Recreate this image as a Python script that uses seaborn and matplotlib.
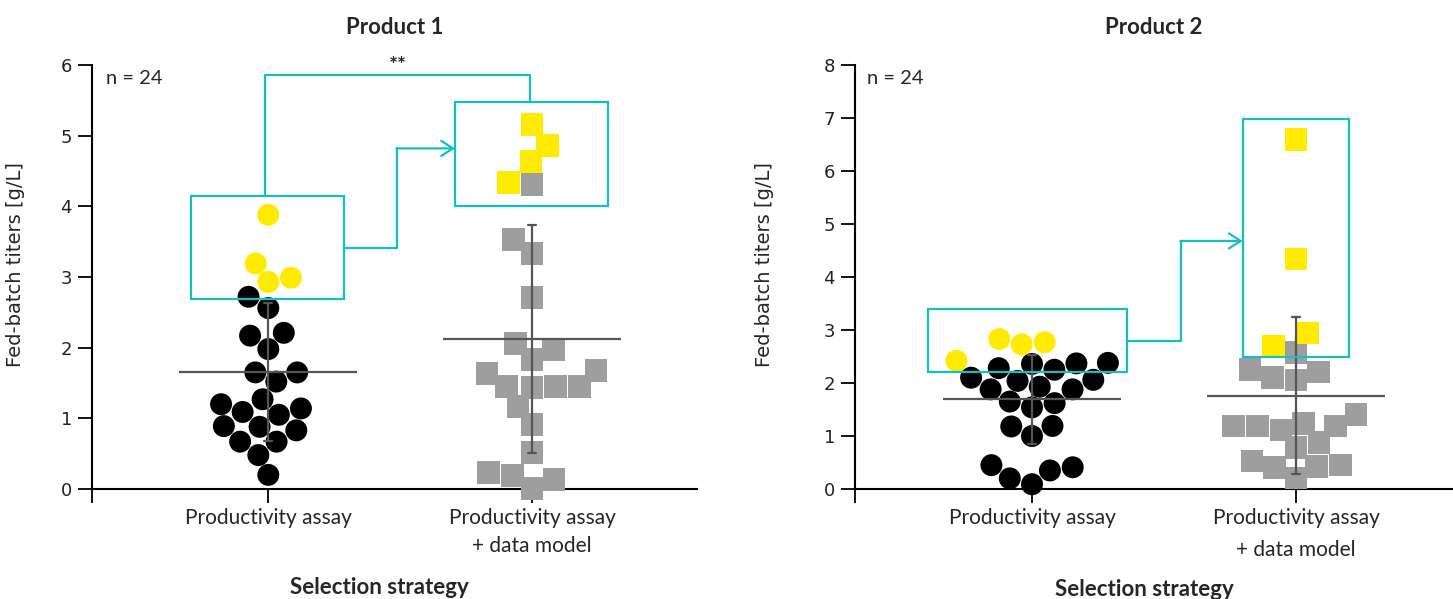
import warnings
warnings.filterwarnings("ignore")
import numpy as np
import pandas as pd
import matplotlib
matplotlib.use("Agg")
import matplotlib.pyplot as plt
from matplotlib.patches import Rectangle
import seaborn as sns

# ---------------- data ----------------
categories = ["Productivity assay", "Productivity assay\n+ data model"]
titles = ["Product 1", "Product 2"]
n_labels = ["n = 24", "n = 24"]

p1_assay_top = [3.88, 3.19, 2.99, 2.93]
p1_assay_rest = [2.72, 2.56, 2.17, 2.21, 1.98, 1.65, 1.65, 1.52, 1.27, 1.14,
                 1.20, 1.09, 1.05, 0.89, 0.83, 0.88, 0.67, 0.67, 0.48, 0.20]
p1_model_top = [5.16, 4.86, 4.63, 4.34]
p1_model_rest = [4.31, 3.53, 3.33, 2.71, 2.06, 1.83, 1.97, 1.63, 1.45, 1.45,
                 1.68, 1.44, 1.45, 1.17, 0.91, 0.52, 0.23, 0.01, 0.19, 0.13]

p2_assay_top = [2.42, 2.73, 2.77, 2.83]
p2_assay_rest = [2.10, 2.37, 2.06, 1.65, 2.36, 1.93, 1.00, 0.41, 2.25, 1.88,
                 1.54, 1.18, 0.20, 2.38, 2.04, 1.62, 1.19, 0.35, 2.28, 1.88,
                 0.45, 0.09]
p2_model_top = [6.60, 4.34, 2.94, 2.70]
p2_model_rest = [2.57, 2.25, 2.06, 2.10, 2.21, 1.19, 1.19, 1.19, 1.40, 1.24,
                 0.88, 0.42, 1.11, 0.78, 0.45, 0.40, 0.53, 0.21]

y_max = [6, 8]

# ---------------- style ----------------
sns.set_theme(style="ticks")
plt.rcParams["font.family"] = ["DejaVu Sans"]
TEAL = "#14BEC6"
YELLOW = "#FFEB00"
GRAY = "#9E9E9E"
DARK = "#555555"
LABEL_FONT = "Lato"


def build_df(a_top, a_rest, m_top, m_rest):
    rows = []
    for v in a_rest:
        rows.append((categories[0], v, "rest"))
    for v in a_top:
        rows.append((categories[0], v, "top"))
    for v in m_rest:
        rows.append((categories[1], v, "rest"))
    for v in m_top:
        rows.append((categories[1], v, "top"))
    return pd.DataFrame(rows, columns=["strategy", "titer", "group"])


dfs = [build_df(p1_assay_top, p1_assay_rest, p1_model_top, p1_model_rest),
       build_df(p2_assay_top, p2_assay_rest, p2_model_top, p2_model_rest)]

W, H = 1453, 599
fig = plt.figure(figsize=(W / 100, H / 100), dpi=100)

ax_px = [(91.5, 697.0), (854.5, 1453.0)]
bot_px, top_px = 489.0, 65.0
cat0_px = [268.3, 1032.0]
cat_step = [263.7, 264.0]

axes = []
for i in range(2):
    l, r = ax_px[i]
    ax = fig.add_axes([l / W, 1 - bot_px / H, (r - l) / W, (bot_px - top_px) / H])
    axes.append(ax)
    df = dfs[i]
    for ci, marker, col, sz in [(0, "o", "black", 15.8), (1, "s", GRAY, 16.3)]:
        sub = df[df["strategy"] == categories[ci]]
        sns.swarmplot(data=sub, x="strategy", y="titer", hue="group",
                      order=categories, hue_order=["rest", "top"],
                      palette={"rest": col, "top": YELLOW}, marker=marker,
                      size=sz, linewidth=0, ax=ax, legend=False,
                      warn_thresh=1, zorder=3, clip_on=False)
    sns.pointplot(data=df, x="strategy", y="titer", order=categories,
                  estimator="mean", errorbar="sd", color=DARK,
                  markers="_", linestyles="none", markersize=128,
                  markeredgewidth=1.6, capsize=0.03,
                  err_kws={"linewidth": 1.6, "zorder": 6}, zorder=6, ax=ax)
    xl = (l - cat0_px[i]) / cat_step[i]
    xr = (r - cat0_px[i]) / cat_step[i]
    ax.set_xlim(xl, xr)
    ax.set_ylim(0, y_max[i])
    ax.set_yticks(range(0, y_max[i] + 1))
    ax.set_xticks([xl, 0, 1])
    ax.set_xticklabels(["", categories[0], categories[1]],
                       fontfamily=LABEL_FONT, fontsize=15,
                       linespacing=1.45 if i == 0 else 1.75)
    for lab in ax.get_yticklabels():
        lab.set_fontsize(13)
        lab.set_color("#222222")
    ax.tick_params(axis="both", length=10, width=1.3, color="black", pad=4)
    for sp in ["left", "bottom"]:
        ax.spines[sp].set_linewidth(1.5)
        ax.spines[sp].set_color("black")
        ax.spines[sp].set_zorder(2)
    sns.despine(ax=ax)
    ax.set_xlabel("Selection strategy", fontfamily=LABEL_FONT, fontsize=16,
                  fontweight="bold", va="top")
    ax.xaxis.set_label_coords(0.476 if i == 0 else 0.484,
                              -0.207 if i == 0 else -0.213)
    ax.set_ylabel("Fed-batch titers [g/L]", fontsize=14)
    ax.yaxis.set_label_coords(-0.11 if i == 0 else -0.135, 0.53)
    ax.set_title(titles[i], fontfamily=LABEL_FONT, fontsize=16,
                 fontweight="bold", pad=22)
    ax.text(0.024 if i == 0 else 0.021, 0.967, n_labels[i],
            transform=ax.transAxes, fontfamily=LABEL_FONT, fontsize=14.5,
            va="center", ha="left")

lw = 1.6
# ---- Product 1 annotations ----
ax = axes[0]
ax.add_patch(Rectangle((-0.294, 2.69), 0.582, 1.46, fill=False,
                       edgecolor=TEAL, linewidth=lw, zorder=7))
ax.add_patch(Rectangle((0.708, 4.01), 0.580, 1.46, fill=False,
                       edgecolor=TEAL, linewidth=lw, zorder=7))
ax.plot([-0.012, -0.012, 0.993, 0.993], [4.15, 5.86, 5.86, 5.47],
        color=TEAL, linewidth=lw, zorder=7, clip_on=False)
ax.plot([0.288, 0.488, 0.488], [3.41, 3.41, 4.82], color=TEAL,
        linewidth=lw, zorder=7)
ax.annotate("", xy=(0.708, 4.82), xytext=(0.486, 4.82),
            arrowprops=dict(arrowstyle="->,head_length=0.7,head_width=0.45",
                            color=TEAL, linewidth=lw, shrinkA=0, shrinkB=0),
            zorder=7)
ax.text(0.49, 5.99, "**", ha="center", va="center", fontsize=15,
        fontfamily=LABEL_FONT, fontweight="bold")

# ---- Product 2 annotations ----
ax = axes[1]
ax.add_patch(Rectangle((-0.395, 2.21), 0.756, 1.19, fill=False,
                       edgecolor=TEAL, linewidth=lw, zorder=7))
ax.add_patch(Rectangle((0.798, 2.50), 0.402, 4.48, fill=False,
                       edgecolor=TEAL, linewidth=lw, zorder=7))
ax.plot([0.361, 0.564, 0.564], [2.80, 2.80, 4.68], color=TEAL,
        linewidth=lw, zorder=7)
ax.annotate("", xy=(0.798, 4.68), xytext=(0.562, 4.68),
            arrowprops=dict(arrowstyle="->,head_length=0.7,head_width=0.45",
                            color=TEAL, linewidth=lw, shrinkA=0, shrinkB=0),
            zorder=7)

fig.savefig("out.png", dpi=100)
